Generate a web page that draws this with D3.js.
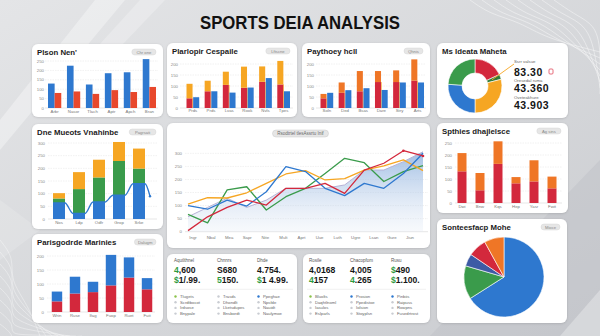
<!DOCTYPE html>
<html><head><meta charset="utf-8">
<script src="https://cdn.jsdelivr.net/npm/d3@7"></script>
<style>
body{margin:0;background:#d8d9db;}
svg{display:block;font-family:"Liberation Sans",Arial,sans-serif;}
</style></head><body>
<svg id="chart" width="600" height="336"></svg>
<script>
// ---- data ----
const p1Cats = ["Arbr","Nasor","Tlach","Aptr","Apch","Bran"];
const p1Blue = [130,225,125,185,190,260];
const p1Red = [80,88,75,95,85,112];

const p2Cats = ["Prds","Prds","Lvas","Rook","Nvls","Tpes"];
const p2Red = [44,76,105,92,119,107];
const p2Orange = [66,48,60,96,70,107];
const p2Blue = [49,76,70,93,136,76];

const p3Cats = ["Soln","Ded","Bsas","Dare","Stry","Arts"];
const p3Red = [44,69,76,118,118,124];
const p3Orange = [20,47,92,50,53,97];
const p3Blue = [69,81,90,82,116,116];

const donutVals = [18,3,29,26,24];
const donutLabels = ["Ssrr valsue","Oresedal ruma","Oveteakhure"];
const donutNums = ["83.30","43.360","43.903"];

const p5Cats = ["Nos","Ldp","Odfr","Grop","Srke"];
const p5Blue = [63,22,67,94,139];
const p5Green = [18,96,97,135,60];
const p5Orange = [21,67,70,75,79];
const p5Tail = 90;

const mainCats = ["Ingr","Nbal","Mea","Sapr","Nite","Mult","Aprt","Uue","Luth","Ugre","Lsan","Gure","Jiun"];
const mainArea = [57,93,128,93,121,166,166,166,179,236,236,268,306];
const mainGreen = [66,34,160,172,83,134,166,223,281,264,192,230,253];
const mainOrange = [106,130,129,149,185,221,234,198,203,236,252,275,234];
const mainBlue = [100,86,121,98,153,249,230,166,138,185,166,223,300];
const mainRed = [4,57,93,121,102,166,166,185,147,236,262,310,290];
const mainTicks = [0,50,100,150,200,250,300];

const p7Cats = ["Dwi","Bnw","Kqs","Hep","Yasr","Fwit"];
const p7Red = [132,53,163,82,90,61];
const p7Orange = [76,72,94,26,88,49];

const p8Cats = ["Wrin","Ruse","Ifag","Fuop","Ruet","Fuit"];
const p8Red = [38,66,71,95,123,81];
const p8Blue = [35,60,37,109,72,40];

const s1Labels = ["Aqutlthnel","Chnnrs","Dhde"];
const s1Top = ["4,600","S680","4.754."];
const s1Bot = ["$1/.99.","5150.","$1 4.99."];
const s1TopGreen = [true,false,false];
const s1BotGreen = [true,true,true];
const s1Items = [["Tlugets","Scrdtbocot","Irdsose","Bnypale"],["Trasds","Dhondlt","Lketsdupes","Bnsbordt"],["Ppeghae","Npsfde","Nauidt","Naulymoe"]];
const s1Dots = ["#8bc34a","#c9ccd2","#2e78cf"];

const s2Labels = ["Rosile","Chacopfom","Rusu"];
const s2Top = ["4,0168","4,005","$490"];
const s2Bot = ["4157","4.265","$1.100."];
const s2TopGreen = [false,false,true];
const s2BotGreen = [true,true,true];
const s2Items = [["Bluolts","Daqhtlnoml","Iasulos","Eslparls"],["Prosion","Ppedistoe","Iolsion","Stoyplsn"],["Pinbiis","Raipuss","Rowpns","Fusedrtrost"]];
const s2Dots = ["#8bc34a","#2e78cf","#2e78cf"];

const pieVals = [66,13.5,5,7.5,8];

// ---- colours ----
const BLUE = "#2e78cf", RED = "#d3283c", ORANGE = "#f6a623", ORANGE2 = "#ef7626",
      P1RED = "#e8482c", GREEN = "#3a9b4b", DKBLUE = "#3d5aa5", GRID = "#e3e3e3";

const svg = d3.select("#chart");
const defs = svg.append("defs");

const bg = defs.append("linearGradient").attr("id","bg").attr("x1",0).attr("y1",0).attr("x2",1).attr("y2",1);
bg.append("stop").attr("offset",0).attr("stop-color","#e4e5e7");
bg.append("stop").attr("offset",1).attr("stop-color","#caccd0");

const af = defs.append("linearGradient").attr("id","areaFill").attr("x1",0).attr("y1",0).attr("x2",0).attr("y2",1);
af.append("stop").attr("offset",0).attr("stop-color","#8fb2df").attr("stop-opacity",0.85);
af.append("stop").attr("offset",1).attr("stop-color","#dfe8f4").attr("stop-opacity",0.25);

const sh = defs.append("filter").attr("id","sh").attr("x",-0.1).attr("y",-0.1).attr("width",1.2).attr("height",1.2);
sh.append("feDropShadow").attr("dx",0).attr("dy",0.6).attr("stdDeviation",1.2).attr("flood-color","#000").attr("flood-opacity",0.15);

// ---- background ----
svg.append("rect").attr("width",600).attr("height",336).attr("fill","url(#bg)");
const deco = svg.append("g");
deco.append("path").attr("d","M0,120 L95,0 L125,0 L0,150 Z").attr("fill","#fff").attr("opacity",0.35);
deco.append("path").attr("d","M140,0 L165,0 L60,110 L40,110 Z").attr("fill","#fff").attr("opacity",0.25);
deco.append("path").attr("d","M430,336 L600,160 L600,336 Z").attr("fill","#bfc2c7").attr("opacity",0.5);
deco.append("path").attr("d","M560,336 L600,290 L600,336 Z").attr("fill","#fff").attr("opacity",0.3);
deco.append("path").attr("d","M0,200 L40,230 L0,260 Z").attr("fill","#fff").attr("opacity",0.15);

// contour-style lines
const contour = d3.line().curve(d3.curveBasis);
for (let i = 0; i < 8; i++) {
  deco.append("path")
    .attr("d", contour([[470+i*12,0],[490+i*12,14],[520+i*10,22],[545+i*8,38],[600,52+i*6]]))
    .attr("fill","none").attr("stroke","#fff").attr("stroke-width",0.6).attr("opacity",0.7);
  deco.append("path")
    .attr("d", contour([[0,240+i*12],[14,258+i*11],[10,280+i*9],[28,305+i*5],[40+i*6,336]]))
    .attr("fill","none").attr("stroke","#fff").attr("stroke-width",0.6).attr("opacity",0.6);
}

// ---- title ----
svg.append("text").attr("x",300).attr("y",29).attr("text-anchor","middle")
  .attr("font-size",17.5).attr("font-weight",700).attr("fill","#111")
  .attr("textLength",200).attr("lengthAdjust","spacingAndGlyphs")
  .text("SPORTS DEIA ANALYSIS");

// ---- helpers ----
function panel(x, y, w, h, title, badge) {
  svg.append("rect").attr("x",x).attr("y",y).attr("width",w).attr("height",h)
    .attr("rx",6).attr("fill","#fff").attr("filter","url(#sh)");
  if (title) {
    svg.append("text").attr("x",x+5).attr("y",y+10.5).attr("font-size",7.8)
      .attr("font-weight",600).attr("fill","#1b1b1b").text(title);
  }
  if (badge) {
    const bw = badge.length*2.6+6;
    svg.append("rect").attr("x",x+w-7-bw).attr("y",y+5).attr("width",bw).attr("height",6)
      .attr("rx",3).attr("fill","#e6e6e6").attr("stroke","#d2d2d2").attr("stroke-width",0.4);
    svg.append("text").attr("x",x+w-7-bw/2).attr("y",y+9.5).attr("text-anchor","middle")
      .attr("font-size",4.2).attr("fill","#888").text(badge);
  }
}

function grid(y, x0, x1, labelX, ticks) {
  const g = svg.append("g");
  ticks.forEach(t => {
    g.append("line").attr("x1",x0).attr("x2",x1).attr("y1",y(t)).attr("y2",y(t))
      .attr("stroke", t === 0 ? "#cfcfcf" : GRID).attr("stroke-width",0.5)
      .attr("stroke-dasharray", t === 0 ? null : "1.5,1");
    g.append("text").attr("x",labelX).attr("y",y(t)+1.5).attr("text-anchor","end")
      .attr("font-size",4.3).attr("fill","#888").text(t);
  });
}

function catLabels(x, cats, yPos, off) {
  cats.forEach(c => {
    svg.append("text").attr("x",x(c)+off).attr("y",yPos).attr("text-anchor","middle")
      .attr("font-size",4.3).attr("fill","#777").text(c);
  });
}

function bar(x, y0, y1, w, color) {
  svg.append("rect").attr("x",x).attr("y",Math.min(y0,y1)).attr("width",w)
    .attr("height",Math.abs(y0-y1)).attr("fill",color);
}

// ---- panel 1 ----
panel(32,44,131,73,"Plson Nen'","Chr one");
{
  const x = d3.scaleBand().domain(p1Cats).range([48,156]).paddingInner(0.3);
  const y = d3.scaleLinear().domain([0,250]).range([108,61]);
  grid(y,45,158,44,y.ticks(5));
  const bw = x.bandwidth()/2;
  p1Cats.forEach((c,i) => {
    bar(x(c), y(0), y(p1Blue[i]), bw, BLUE);
    bar(x(c)+bw, y(0), y(p1Red[i]), bw, P1RED);
  });
  catLabels(x, p1Cats, 113, x.bandwidth()/2);
}

// ---- panel 2 ----
panel(167,43,130,74,"Plarlopir Cespaile","Lftscne");
{
  const x = d3.scaleBand().domain(d3.range(p2Cats.length)).range([186.5,290]).paddingInner(0.3);
  const y = d3.scaleLinear().domain([0,200]).range([108,64]);
  grid(y,180,293,178,y.ticks(4));
  const bw = x.bandwidth()/2 - 0.3;
  p2Cats.forEach((c,i) => {
    bar(x(i), y(0), y(p2Red[i]), bw, RED);
    bar(x(i), y(p2Red[i]), y(p2Red[i]+p2Orange[i]), bw, ORANGE);
    bar(x(i)+bw, y(0), y(p2Red[i]), 0.6, ORANGE);
    bar(x(i)+bw+0.6, y(0), y(p2Blue[i]), bw, BLUE);
  });
  p2Cats.forEach((c,i) => svg.append("text").attr("x",x(i)+x.bandwidth()/2).attr("y",112)
    .attr("text-anchor","middle").attr("font-size",4.3).attr("fill","#777").text(c));
}

// ---- panel 3 ----
panel(302,43,128,74,"Paythoey hcll","Qhnis");
{
  const x = d3.scaleBand().domain(p3Cats.map((c,i)=>i)).range([320.5,424]).paddingInner(0.3);
  const y = d3.scaleLinear().domain([0,200]).range([108,64]);
  grid(y,316,426,314,y.ticks(4));
  const bw = x.bandwidth()/2 - 0.3;
  p3Cats.forEach((c,i) => {
    bar(x(i), y(0), y(p3Red[i]), bw, RED);
    bar(x(i), y(p3Red[i]), y(p3Red[i]+p3Orange[i]), bw, ORANGE2);
    bar(x(i)+bw, y(0), y(p3Red[i]), 0.6, ORANGE);
    bar(x(i)+bw+0.6, y(0), y(p3Blue[i]), bw, BLUE);
  });
  p3Cats.forEach((c,i) => svg.append("text").attr("x",x(i)+x.bandwidth()/2).attr("y",112)
    .attr("text-anchor","middle").attr("font-size",4.3).attr("fill","#777").text(c));
}

// ---- panel 4 (donut) ----
panel(437,43,131,75,"Ms Ideata Maheta",null);
{
  const cx = 475, cy = 86;
  const arcs = d3.pie().sort(null)(donutVals);
  const arc = d3.arc().innerRadius(13).outerRadius(27);
  const cols = [RED, "#2f7d3c", ORANGE, BLUE, GREEN];
  const g = svg.append("g").attr("transform",`translate(${cx},${cy})`);
  g.selectAll("path").data(arcs).join("path").attr("d",arc)
    .attr("fill",(d,i)=>cols[i]).attr("stroke","#fff").attr("stroke-width",0.6);
  const mid = arcs[1];
  const a = (mid.startAngle+mid.endAngle)/2;
  svg.append("line").attr("x1",cx+Math.sin(a)*18).attr("y1",cy-Math.cos(a)*18)
    .attr("x2",514).attr("y2",64).attr("stroke",ORANGE).attr("stroke-width",0.9);
  const ys = [[62.5,75.5],[81.5,91.5],[98.5,109]];
  donutLabels.forEach((l,i) => {
    svg.append("text").attr("x",514).attr("y",ys[i][0]).attr("font-size",4.3).attr("fill","#666").text(l);
    svg.append("text").attr("x",514).attr("y",ys[i][1]).attr("font-size",10.5).attr("font-weight",700)
      .attr("fill","#151515").attr("letter-spacing",0.5).text(donutNums[i]);
  });
  svg.append("rect").attr("x",549).attr("y",69).attr("width",4).attr("height",5).attr("rx",1)
    .attr("fill","none").attr("stroke","#e04a5a").attr("stroke-width",0.8);
}

// ---- panel 5 (stacked + line) ----
panel(32,124,131,105,"Dne Mueots Vnahinbe","Pagrsati");
{
  const x = d3.scaleBand().domain(p5Cats).range([53,145]).paddingInner(0.4);
  const y = d3.scaleLinear().domain([0,300]).range([219,143]);
  grid(y,48,157,45,y.ticks(6));
  const bw = x.bandwidth();
  p5Cats.forEach((c,i) => {
    const b = p5Blue[i], g = b + p5Green[i], o = g + p5Orange[i];
    bar(x(c), y(0), y(b), bw, BLUE);
    bar(x(c), y(b), y(g), bw, GREEN);
    bar(x(c), y(g), y(o), bw, ORANGE);
  });
  const pts = [];
  p5Cats.forEach((c,i) => { pts.push([x(c), y(p5Blue[i])]); pts.push([x(c)+bw, y(p5Blue[i])]); });
  const last = p5Cats[p5Cats.length-1];
  pts.push([x(last)+bw+5, y(p5Tail)]);
  svg.append("path").attr("d", d3.line().curve(d3.curveMonotoneX)(pts))
    .attr("fill","none").attr("stroke",BLUE).attr("stroke-width",1.4);
  svg.append("circle").attr("cx",pts[pts.length-1][0]).attr("cy",pts[pts.length-1][1]).attr("r",1.2).attr("fill",BLUE);
  catLabels(x, p5Cats, 224, bw/2);
}

// ---- main line chart ----
panel(167,123,263,125,null,null);
{
  const bwid = 56;
  svg.append("rect").attr("x",300.5-bwid/2).attr("y",130).attr("width",bwid).attr("height",7)
    .attr("rx",3.5).attr("fill","#e6e6e6").attr("stroke","#c8c8c8").attr("stroke-width",0.5);
  svg.append("text").attr("x",300.5).attr("y",135).attr("text-anchor","middle").attr("font-size",4.5)
    .attr("fill","#666").text("Rsodtrtel tlesAssrtu Inif");
  const x = d3.scalePoint().domain(mainCats).range([188,423]);
  const xl = d3.scalePoint().domain(mainCats).range([193,410]);
  const y = d3.scaleLinear().domain([0,320]).range([231.7,148.1]);
  grid(y,185,428,182,mainTicks);
  catLabels(xl, mainCats, 239, 0);
  svg.append("path").attr("d", d3.area().x((d,i)=>x(mainCats[i])).y0(y(0)).y1(d=>y(d))(mainArea))
    .attr("fill","url(#areaFill)");
  const ln = d3.line().x((d,i)=>x(mainCats[i])).y(d=>y(d));
  svg.append("path").attr("d",ln(mainArea)).attr("fill","none").attr("stroke","#b7b2d6").attr("stroke-width",1);
  [[mainGreen,GREEN],[mainOrange,ORANGE],[mainBlue,BLUE],[mainRed,RED]].forEach(([s,c]) => {
    svg.append("path").attr("d",ln(s)).attr("fill","none").attr("stroke",c).attr("stroke-width",1.3)
      .attr("stroke-linejoin","round");
  });
  [11,12].forEach(i => svg.append("circle").attr("cx",x(mainCats[i])).attr("cy",y(mainRed[i])).attr("r",1.3).attr("fill",RED));
}

// ---- panel 7 ----
panel(437,123,131,90,"Spthies dhajlelsce","Ag sins");
{
  const x = d3.scaleBand().domain(p7Cats).range([457.5,556.5]).paddingInner(0.5);
  const y = d3.scaleLinear().domain([0,250]).range([203,143]);
  grid(y,455,562,452,y.ticks(5));
  const bw = x.bandwidth();
  p7Cats.forEach((c,i) => {
    bar(x(c), y(0), y(p7Red[i]), bw, RED);
    bar(x(c), y(p7Red[i]), y(p7Red[i]+p7Orange[i]), bw, ORANGE2);
  });
  catLabels(x, p7Cats, 208, bw/2);
}

// ---- panel 8 ----
panel(32,234,131,89,"Parisgodrde Marinies","Dalugm");
{
  const x = d3.scaleBand().domain(p8Cats).range([51.75,152.25]).paddingInner(0.42);
  const y = d3.scaleLinear().domain([0,200]).range([312,256]);
  grid(y,47,155,44,y.ticks(4));
  const bw = x.bandwidth();
  p8Cats.forEach((c,i) => {
    bar(x(c), y(0), y(p8Red[i]), bw, RED);
    bar(x(c), y(p8Red[i]), y(p8Red[i]+p8Blue[i]), bw, BLUE);
  });
  catLabels(x, p8Cats, 317, bw/2);
}

// ---- stats panels ----
function stats(px, py, pw, cols, labels, tops, bots, topG, botG, items, dots) {
  panel(px, py, pw, 69, null, null);
  cols.forEach((cx, i) => {
    svg.append("text").attr("x",cx).attr("y",py+8).attr("font-size",4.5).attr("fill","#555").text(labels[i]);
    [[tops[i],topG[i],py+19],[bots[i],botG[i],py+29]].forEach(([s,gr,yy]) => {
      const t = svg.append("text").attr("x",cx).attr("y",yy).attr("font-size",8.6)
        .attr("font-weight",600).attr("fill","#161616");
      if (gr) { t.append("tspan").attr("fill","#2e9a3e").text(s[0]); t.append("tspan").text(s.slice(1)); }
      else t.text(s);
    });
    items[i].forEach((it, j) => {
      const yy = py + 42.5 + j*5.7;
      svg.append("circle").attr("cx",cx+1.5).attr("cy",yy).attr("r",1.2)
        .attr("fill", j === 0 ? dots[i] : "#c9ccd2");
      svg.append("text").attr("x",cx+6).attr("y",yy+1.4).attr("font-size",4.2).attr("fill","#666").text(it);
    });
  });
  svg.append("line").attr("x1",px+4).attr("x2",px+pw-4).attr("y1",py+35.3).attr("y2",py+35.3)
    .attr("stroke","#e2e2e2").attr("stroke-width",0.5);
}
stats(167,254,130,[174,217,257],s1Labels,s1Top,s1Bot,s1TopGreen,s1BotGreen,s1Items,s1Dots);
stats(303,254,127,[309,350,391],s2Labels,s2Top,s2Bot,s2TopGreen,s2BotGreen,s2Items,s2Dots);

// ---- pie ----
panel(437,219,130,104,"Sonteesfacp Mohe","Mioce");
{
  const arcs = d3.pie().sort(null)(pieVals);
  const arc = d3.arc().innerRadius(0).outerRadius(40);
  const cols = [BLUE, GREEN, DKBLUE, RED, ORANGE2];
  svg.append("g").attr("transform","translate(504,277)")
    .selectAll("path").data(arcs).join("path").attr("d",arc)
    .attr("fill",(d,i)=>cols[i]).attr("stroke","#fff").attr("stroke-width",0.6);
}
</script></body></html>
